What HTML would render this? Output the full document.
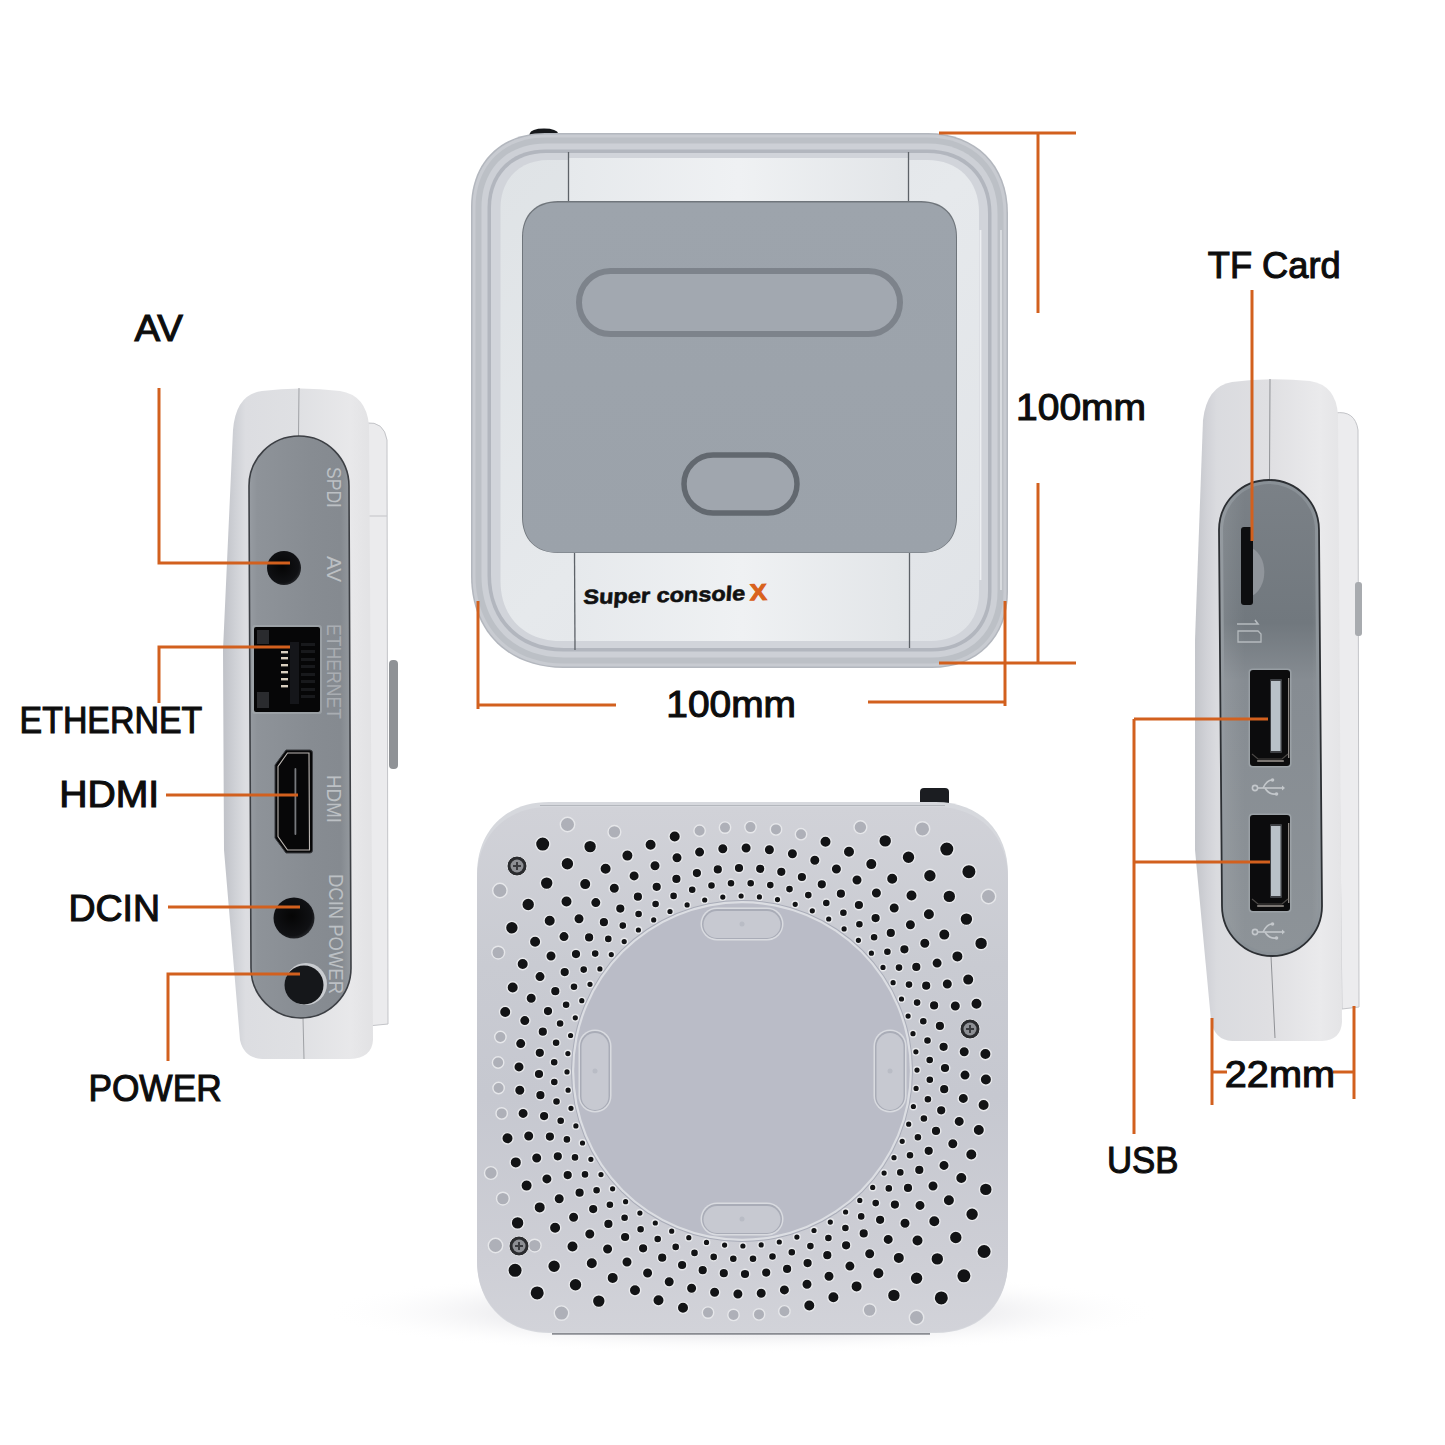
<!DOCTYPE html>
<html><head><meta charset="utf-8"><title>Super console X</title>
<style>html,body{margin:0;padding:0;background:#fff;width:1445px;height:1445px;overflow:hidden}
svg{display:block;font-family:"Liberation Sans",sans-serif}</style></head>
<body><svg width="1445" height="1445" viewBox="0 0 1445 1445">
<defs>
 <linearGradient id="topSurf" x1="0" y1="0" x2="1" y2="1">
  <stop offset="0" stop-color="#dfe3e6"/><stop offset="0.5" stop-color="#e6e9ec"/><stop offset="1" stop-color="#e0e3e7"/>
 </linearGradient>
 <linearGradient id="groove" x1="0" y1="0" x2="1" y2="0">
  <stop offset="0" stop-color="#adb2ba"/><stop offset="0.5" stop-color="#babec5"/><stop offset="1" stop-color="#c5c8cd"/>
 </linearGradient>
 <linearGradient id="grillg" x1="0" y1="0" x2="0" y2="1">
  <stop offset="0" stop-color="#d1d2d8"/><stop offset="0.3" stop-color="#c9cbd2"/><stop offset="0.55" stop-color="#c6c8d0"/><stop offset="0.85" stop-color="#cdced5"/><stop offset="1" stop-color="#d2d3d9"/>
 </linearGradient>
 <linearGradient id="floor" x1="0" y1="0" x2="0" y2="1">
  <stop offset="0" stop-color="#ffffff"/><stop offset="0.4" stop-color="#f5f5f7"/><stop offset="1" stop-color="#fafafb"/>
 </linearGradient>
 <radialGradient id="floorr" cx="0.5" cy="0.5" r="0.5">
  <stop offset="0" stop-color="#e9e9ec"/><stop offset="0.6" stop-color="#f1f1f3"/><stop offset="1" stop-color="#ffffff" stop-opacity="0"/>
 </radialGradient>
 <linearGradient id="strip" x1="0" y1="0" x2="1" y2="0">
  <stop offset="0" stop-color="#e6e9ec"/><stop offset="0.5" stop-color="#eff1f3"/><stop offset="1" stop-color="#e2e5e8"/>
 </linearGradient>
 <linearGradient id="panelTop" x1="0" y1="0" x2="0" y2="1">
  <stop offset="0" stop-color="#9da4ac"/><stop offset="1" stop-color="#9ba2aa"/>
 </linearGradient>
 <linearGradient id="sideBodyL" x1="0" y1="0" x2="1" y2="0">
  <stop offset="0" stop-color="#bfc1c7"/><stop offset="0.08" stop-color="#cfd1d6"/><stop offset="0.15" stop-color="#dcdde1"/><stop offset="0.5" stop-color="#dfe0e3"/><stop offset="0.85" stop-color="#e8e8ea"/><stop offset="1" stop-color="#e2e2e4"/>
 </linearGradient>
 <linearGradient id="sideBodyR" x1="0" y1="0" x2="1" y2="0">
  <stop offset="0" stop-color="#c3c5ca"/><stop offset="0.08" stop-color="#d1d2d7"/><stop offset="0.15" stop-color="#dadbdf"/><stop offset="0.5" stop-color="#dfdfe2"/><stop offset="0.85" stop-color="#eaeaec"/><stop offset="1" stop-color="#e4e4e6"/>
 </linearGradient>
 <linearGradient id="panelL" x1="0" y1="0" x2="1" y2="0">
  <stop offset="0" stop-color="#979ca2"/><stop offset="0.08" stop-color="#8e9399"/><stop offset="0.6" stop-color="#878c92"/><stop offset="0.9" stop-color="#858a90"/><stop offset="1" stop-color="#959a9f"/>
 </linearGradient>
 <linearGradient id="panelR" gradientUnits="userSpaceOnUse" x1="0" y1="480" x2="0" y2="956">
  <stop offset="0" stop-color="#7b8187"/><stop offset="0.3" stop-color="#71787e"/><stop offset="0.42" stop-color="#868c92"/><stop offset="1" stop-color="#8d9398"/>
 </linearGradient>
 <linearGradient id="panelRh" x1="0" y1="0" x2="1" y2="0">
  <stop offset="0" stop-color="#ffffff" stop-opacity="0.1"/><stop offset="0.25" stop-color="#ffffff" stop-opacity="0"/><stop offset="0.9" stop-color="#ffffff" stop-opacity="0"/><stop offset="1" stop-color="#ffffff" stop-opacity="0.08"/>
 </linearGradient>
 <linearGradient id="slotg" x1="0" y1="0" x2="1" y2="1">
  <stop offset="0" stop-color="#9fa2ae"/><stop offset="0.5" stop-color="#b0b3be"/><stop offset="1" stop-color="#bec1ca"/>
 </linearGradient>
 <radialGradient id="jack" cx="0.45" cy="0.45" r="0.6">
  <stop offset="0" stop-color="#050505"/><stop offset="0.8" stop-color="#101114"/><stop offset="1" stop-color="#2a2c30"/>
 </radialGradient>
</defs>
<path d="M529.5 138 L529.5 134 Q531 128.5 544 128.5 Q557 128.5 558.5 134 L558.5 138 Z" fill="#16181b"/><path d="M545.0 133.0 L928.0 133.0 C976.0 133.0 1008.0 165.0 1008.0 213.0 L1008.0 592.0 C1008.0 637.6 977.6 668.0 932.0 668.0 L563.0 668.0 C507.8 668.0 471.0 631.2 471.0 576.0 L471.0 207.0 C471.0 162.6 500.6 133.0 545.0 133.0 Z" fill="#b3b7be"/><path d="M545.0 134.5 L928.0 134.5 C975.1 134.5 1006.5 165.9 1006.5 213.0 L1006.5 592.0 C1006.5 636.7 976.7 666.5 932.0 666.5 L563.0 666.5 C508.7 666.5 472.5 630.3 472.5 576.0 L472.5 207.0 C472.5 163.5 501.5 134.5 545.0 134.5 Z" fill="#c8cbd1"/><path d="M545.5 137.5 L927.5 137.5 C973.1 137.5 1003.5 167.9 1003.5 213.5 L1003.5 591.5 C1003.5 634.7 974.7 663.5 931.5 663.5 L563.5 663.5 C510.7 663.5 475.5 628.3 475.5 575.5 L475.5 207.5 C475.5 165.5 503.5 137.5 545.5 137.5 Z" fill="#bcc0c6"/><path d="M545.5 143.5 L927.5 143.5 C969.5 143.5 997.5 171.5 997.5 213.5 L997.5 591.5 C997.5 631.1 971.1 657.5 931.5 657.5 L563.5 657.5 C514.3 657.5 481.5 624.7 481.5 575.5 L481.5 207.5 C481.5 169.1 507.1 143.5 545.5 143.5 Z" fill="#cdd0d6"/><path d="M545.5 149.5 L927.5 149.5 C965.9 149.5 991.5 175.1 991.5 213.5 L991.5 591.5 C991.5 627.5 967.5 651.5 931.5 651.5 L563.5 651.5 C517.9 651.5 487.5 621.1 487.5 575.5 L487.5 207.5 C487.5 172.7 510.7 149.5 545.5 149.5 Z" fill="#b2b6be"/><path d="M546.0 153.0 L927.0 153.0 C963.6 153.0 988.0 177.4 988.0 214.0 L988.0 591.0 C988.0 625.2 965.2 648.0 931.0 648.0 L564.0 648.0 C520.2 648.0 491.0 618.8 491.0 575.0 L491.0 208.0 C491.0 175.0 513.0 153.0 546.0 153.0 Z" fill="#d1d4da"/><path d="M548.5 160.0 L927.0 160.0 C958.2 160.0 979.0 180.8 979.0 212.0 L979.0 593.0 C979.0 621.8 959.8 641.0 931.0 641.0 L560.5 641.0 C524.5 641.0 500.5 617.0 500.5 581.0 L500.5 208.0 C500.5 179.2 519.7 160.0 548.5 160.0 Z" fill="url(#topSurf)"/><path d="M980.5 230 L980.5 580" stroke="#f4f6f8" stroke-width="1.8" opacity="0.8"/><path d="M1001 230 L1001 590" stroke="#eef0f3" stroke-width="1.6" opacity="0.7"/><path d="M568 158 L909 158 L909 201 L568 201 Z" fill="url(#strip)"/><path d="M574 552 L909 552 L909 641 L574 641 Z" fill="url(#strip)"/><path d="M568.5 152 L568.5 201" stroke="#5d6268" stroke-width="1.3"/><path d="M908.5 152 L908.5 201" stroke="#5d6268" stroke-width="1.3"/><path d="M574.5 552 L575 650" stroke="#5d6268" stroke-width="1.3"/><path d="M909.5 552 L909.5 648" stroke="#5d6268" stroke-width="1.3"/><path d="M558.0 201.0 L921.0 201.0 C943.3 201.0 957.0 214.7 957.0 237.0 L957.0 517.0 C957.0 539.3 943.3 553.0 921.0 553.0 L558.0 553.0 C535.7 553.0 522.0 539.3 522.0 517.0 L522.0 237.0 C522.0 214.7 535.7 201.0 558.0 201.0 Z" fill="#6f757b"/><path d="M558.0 202.5 L921.0 202.5 C942.7 202.5 956.0 215.8 956.0 237.5 L956.0 517.5 C956.0 539.2 942.7 552.5 921.0 552.5 L558.0 552.5 C536.3 552.5 523.0 539.2 523.0 517.5 L523.0 237.5 C523.0 215.8 536.3 202.5 558.0 202.5 Z" fill="url(#panelTop)"/><rect x="579" y="271" width="321" height="63" rx="31.5" fill="#a2a8b0" stroke="#7d838b" stroke-width="6"/><rect x="684" y="455" width="113" height="58" rx="29" fill="#a0a6ae" stroke="#62686f" stroke-width="5.5"/><g transform="rotate(-1.3 583 604)"><text x="583" y="604" transform="translate(583 604) skewX(-5) translate(-583 -604)" font-family="Liberation Sans" font-weight="bold" font-size="20.5" fill="#111" stroke="#111" stroke-width="0.6" textLength="162" lengthAdjust="spacingAndGlyphs">Super console</text><text x="750" y="604" font-family="Liberation Sans" font-weight="bold" font-size="23" fill="#d9621c" stroke="#d9621c" stroke-width="1" textLength="17" lengthAdjust="spacingAndGlyphs">X</text></g><path d="M366 423 Q384 421 387 440 L388 1024 L368 1026 Z" fill="#ebebed" stroke="#c3c4c8" stroke-width="1"/><path d="M368 516 L387 516" stroke="#c9cacd" stroke-width="1.2"/><rect x="389" y="660" width="9" height="109" rx="4" fill="#8f9296"/><path d="M262 391 Q300 386 340 391 Q366 395 369 425 L373 1040 Q372 1058 350 1059 L262 1059 Q244 1058 240 1040 L224 850 L223 650 L233 430 Q236 394 262 391 Z" fill="url(#sideBodyL)"/><path d="M299 388 L298.5 436" stroke="#9fa1a5" stroke-width="1"/><path d="M303 1018 L304 1059" stroke="#9fa1a5" stroke-width="1"/><path d="M249 486 A50 50 0 0 1 349 486 L351 968 A50 50 0 0 1 251 968 Z" fill="url(#panelL)" stroke="#3c3f44" stroke-width="1.6"/><circle cx="284" cy="568" r="17" fill="url(#jack)"/><rect x="252" y="625" width="70" height="89" rx="3" fill="#a3a8ad" opacity="0.7"/><rect x="254" y="627" width="66" height="85" rx="2" fill="#060607"/><rect x="257" y="630" width="12" height="14" fill="#2a2b2e"/><rect x="257" y="692" width="12" height="16" fill="#2a2b2e"/><rect x="290" y="642" width="9" height="62" fill="#15161a"/><rect x="281" y="651" width="7" height="2.4" fill="#d9cfbf"/><rect x="281" y="657" width="7" height="2.4" fill="#d9cfbf"/><rect x="281" y="664" width="7" height="2.4" fill="#d9cfbf"/><rect x="281" y="671" width="7" height="2.4" fill="#d9cfbf"/><rect x="281" y="678" width="7" height="2.4" fill="#d9cfbf"/><rect x="281" y="685" width="7" height="2.4" fill="#d9cfbf"/><rect x="301" y="643" width="14" height="3" fill="#18191c"/><rect x="301" y="650" width="14" height="3" fill="#18191c"/><rect x="301" y="658" width="14" height="3" fill="#18191c"/><rect x="301" y="665" width="14" height="3" fill="#18191c"/><rect x="301" y="673" width="14" height="3" fill="#18191c"/><rect x="301" y="680" width="14" height="3" fill="#18191c"/><rect x="301" y="688" width="14" height="3" fill="#18191c"/><rect x="301" y="695" width="14" height="3" fill="#18191c"/><path d="M286 750 L310 750 Q312.5 750 312.5 753 L312.5 850 Q312.5 853 310 853 L286 853 L275 838 L275 765 Z" fill="#070708" stroke="#3a3c40" stroke-width="1"/><path d="M287.5 753 L309 753 L309.5 850 L287.5 850 L278 836.5 L278 766.5 Z" fill="none" stroke="#bdb8b4" stroke-width="1.1"/><rect x="294.5" y="768" width="1.8" height="67" rx="0.9" fill="#77797d"/><circle cx="294" cy="918" r="20.5" fill="url(#jack)"/><circle cx="306" cy="984" r="21" fill="#c9ccd0"/><circle cx="304" cy="985" r="19.5" fill="#15171a"/><text transform="translate(327 467) rotate(90)" font-family="Liberation Sans" font-size="20" fill="#bcc0c4" textLength="41" lengthAdjust="spacingAndGlyphs">SPDI</text><text transform="translate(327 556) rotate(90)" font-family="Liberation Sans" font-size="20" fill="#bcc0c4" textLength="26" lengthAdjust="spacingAndGlyphs">AV</text><text transform="translate(327 624) rotate(90)" font-family="Liberation Sans" font-size="20" fill="#a9adb2" textLength="95" lengthAdjust="spacingAndGlyphs">ETHERNET</text><text transform="translate(327 775) rotate(90)" font-family="Liberation Sans" font-size="20" fill="#bcc0c4" textLength="48" lengthAdjust="spacingAndGlyphs">HDMI</text><text transform="translate(329 874) rotate(90)" font-family="Liberation Sans" font-size="20" fill="#bcc0c4" textLength="120" lengthAdjust="spacingAndGlyphs">DCIN  POWER</text><path d="M1335 413 Q1355 410 1358 430 L1359 1007 L1342 1009 Z" fill="#ececee" stroke="#c3c4c8" stroke-width="1"/><rect x="1355" y="582" width="7" height="54" rx="3" fill="#a8abaf"/><path d="M1232 382 Q1270 377 1310 381 Q1336 385 1338 415 L1342 1022 Q1341 1040 1322 1041 L1232 1041 Q1214 1040 1211 1020 L1195 850 L1195 640 L1203 420 Q1207 386 1232 382 Z" fill="url(#sideBodyR)"/><path d="M1270 379 L1269.5 480" stroke="#8f9195" stroke-width="1"/><path d="M1271 956 L1275 1038" stroke="#8f9195" stroke-width="1"/><path d="M1219 530 A50 50 0 0 1 1319 530 L1322 906 A50 50 0 0 1 1222 906 Z" fill="#899096"/><path d="M1223 530 A46 46 0 0 1 1315 530 L1318 906 A46 46 0 0 1 1226 906 Z" fill="url(#panelR)"/><path d="M1219 530 A50 50 0 0 1 1319 530 L1322 906 A50 50 0 0 1 1222 906 Z" fill="url(#panelRh)" stroke="#2c2f33" stroke-width="1.8"/><path d="M1252 548 A20 26 0 0 1 1252 596 Z" fill="#90959b"/><rect x="1241" y="527" width="12" height="78" rx="3" fill="#0d0e10"/><path d="M1238 631 L1258 631 L1261 634 L1261 642 L1238 642 Z" fill="none" stroke="#b5babe" stroke-width="1.3"/><path d="M1237 624 L1258 624 L1255 620" fill="none" stroke="#b5babe" stroke-width="1.6"/><rect x="1248.5" y="668.5" width="43" height="99" rx="4" fill="#a7adb2" opacity="0.6"/><rect x="1250" y="670" width="40" height="96" rx="3" fill="#0c0c0d"/><rect x="1288" y="678" width="1.3" height="80" fill="#8f8a86"/><rect x="1270" y="679" width="12" height="74" rx="1" fill="#3e4044"/><rect x="1271" y="681" width="9.5" height="70" fill="#b9c1c8"/><path d="M1258 761 L1283 761" stroke="#7b7672" stroke-width="2.2" stroke-linecap="round"/><path d="M1252 754 L1258 759 L1282 759 L1288 754" fill="none" stroke="#4a4745" stroke-width="1.2"/><rect x="1248.5" y="813.5" width="43" height="99" rx="4" fill="#a7adb2" opacity="0.6"/><rect x="1250" y="815" width="40" height="96" rx="3" fill="#0c0c0d"/><rect x="1288" y="823" width="1.3" height="80" fill="#8f8a86"/><rect x="1270" y="824" width="12" height="74" rx="1" fill="#3e4044"/><rect x="1271" y="826" width="9.5" height="70" fill="#b9c1c8"/><path d="M1258 906 L1283 906" stroke="#7b7672" stroke-width="2.2" stroke-linecap="round"/><path d="M1252 899 L1258 904 L1282 904 L1288 899" fill="none" stroke="#4a4745" stroke-width="1.2"/><g stroke="#c3c7cb" stroke-width="1.6" fill="none"><circle cx="1255.0" cy="788.0" r="2.6"/><path d="M1258.0 788.0 L1282.0 788.0"/><path d="M1263.0 788.0 Q1267.0 780.0 1272.0 780.0"/><path d="M1265.0 788.0 Q1269.0 795.0 1276.0 794.0"/></g><g fill="#c3c7cb"><circle cx="1272.5" cy="780.0" r="1.8"/><circle cx="1276.5" cy="794.0" r="1.8"/><path d="M1282.0 785.5 L1285.0 788.0 L1282.0 790.5 Z"/></g><g stroke="#c3c7cb" stroke-width="1.6" fill="none"><circle cx="1255.0" cy="932.0" r="2.6"/><path d="M1258.0 932.0 L1282.0 932.0"/><path d="M1263.0 932.0 Q1267.0 924.0 1272.0 924.0"/><path d="M1265.0 932.0 Q1269.0 939.0 1276.0 938.0"/></g><g fill="#c3c7cb"><circle cx="1272.5" cy="924.0" r="1.8"/><circle cx="1276.5" cy="938.0" r="1.8"/><path d="M1282.0 929.5 L1285.0 932.0 L1282.0 934.5 Z"/></g><rect x="920" y="788" width="29" height="22" rx="4" fill="#1b1d21"/><ellipse cx="742" cy="1312" rx="420" ry="42" fill="url(#floorr)"/><path d="M552 1333 L930 1333" stroke="#454952" stroke-width="3.5" opacity="0.6"/><path d="M549.0 802.0 L936.0 802.0 C979.2 802.0 1008.0 830.8 1008.0 874.0 L1008.0 1261.0 C1008.0 1304.2 979.2 1333.0 936.0 1333.0 L549.0 1333.0 C505.8 1333.0 477.0 1304.2 477.0 1261.0 L477.0 874.0 C477.0 830.8 505.8 802.0 549.0 802.0 Z" fill="#d6d8dd"/><path d="M540 805.5 L945 805.5" stroke="#9ea2a9" stroke-width="1" opacity="0.6"/><path d="M549.0 807.0 L936.0 807.0 C979.2 807.0 1008.0 835.8 1008.0 879.0 L1008.0 1260.0 C1008.0 1303.2 979.2 1332.0 936.0 1332.0 L549.0 1332.0 C505.8 1332.0 477.0 1303.2 477.0 1260.0 L477.0 879.0 C477.0 835.8 505.8 807.0 549.0 807.0 Z" fill="url(#grillg)"/><circle cx="917.0" cy="1070.1" r="3.3" fill="#121315" stroke="#e8e9ec" stroke-width="1.4"/><circle cx="916.1" cy="1088.4" r="3.3" fill="#121315" stroke="#e8e9ec" stroke-width="1.4"/><circle cx="913.4" cy="1106.5" r="3.3" fill="#121315" stroke="#e8e9ec" stroke-width="1.4"/><circle cx="908.7" cy="1124.2" r="3.3" fill="#121315" stroke="#e8e9ec" stroke-width="1.4"/><circle cx="902.2" cy="1141.3" r="3.3" fill="#121315" stroke="#e8e9ec" stroke-width="1.4"/><circle cx="894.0" cy="1157.7" r="3.3" fill="#121315" stroke="#e8e9ec" stroke-width="1.4"/><circle cx="884.1" cy="1173.1" r="3.3" fill="#121315" stroke="#e8e9ec" stroke-width="1.4"/><circle cx="872.7" cy="1187.4" r="3.3" fill="#121315" stroke="#e8e9ec" stroke-width="1.4"/><circle cx="859.8" cy="1200.4" r="3.3" fill="#121315" stroke="#e8e9ec" stroke-width="1.4"/><circle cx="845.6" cy="1212.0" r="3.3" fill="#121315" stroke="#e8e9ec" stroke-width="1.4"/><circle cx="830.3" cy="1222.1" r="3.3" fill="#121315" stroke="#e8e9ec" stroke-width="1.4"/><circle cx="814.0" cy="1230.5" r="3.3" fill="#121315" stroke="#e8e9ec" stroke-width="1.4"/><circle cx="796.9" cy="1237.1" r="3.3" fill="#121315" stroke="#e8e9ec" stroke-width="1.4"/><circle cx="779.3" cy="1242.0" r="3.3" fill="#121315" stroke="#e8e9ec" stroke-width="1.4"/><circle cx="761.2" cy="1244.9" r="3.3" fill="#121315" stroke="#e8e9ec" stroke-width="1.4"/><circle cx="742.9" cy="1246.0" r="3.3" fill="#121315" stroke="#e8e9ec" stroke-width="1.4"/><circle cx="724.6" cy="1245.1" r="3.3" fill="#121315" stroke="#e8e9ec" stroke-width="1.4"/><circle cx="706.5" cy="1242.4" r="3.3" fill="#121315" stroke="#e8e9ec" stroke-width="1.4"/><circle cx="688.8" cy="1237.7" r="3.3" fill="#121315" stroke="#e8e9ec" stroke-width="1.4"/><circle cx="671.7" cy="1231.2" r="3.3" fill="#121315" stroke="#e8e9ec" stroke-width="1.4"/><circle cx="655.3" cy="1223.0" r="3.3" fill="#121315" stroke="#e8e9ec" stroke-width="1.4"/><circle cx="639.9" cy="1213.1" r="3.3" fill="#121315" stroke="#e8e9ec" stroke-width="1.4"/><circle cx="625.6" cy="1201.7" r="3.3" fill="#121315" stroke="#e8e9ec" stroke-width="1.4"/><circle cx="612.6" cy="1188.8" r="3.3" fill="#121315" stroke="#e8e9ec" stroke-width="1.4"/><circle cx="601.0" cy="1174.6" r="3.3" fill="#121315" stroke="#e8e9ec" stroke-width="1.4"/><circle cx="590.9" cy="1159.3" r="3.3" fill="#121315" stroke="#e8e9ec" stroke-width="1.4"/><circle cx="582.5" cy="1143.0" r="3.3" fill="#121315" stroke="#e8e9ec" stroke-width="1.4"/><circle cx="575.9" cy="1125.9" r="3.3" fill="#121315" stroke="#e8e9ec" stroke-width="1.4"/><circle cx="571.0" cy="1108.3" r="3.3" fill="#121315" stroke="#e8e9ec" stroke-width="1.4"/><circle cx="568.1" cy="1090.2" r="3.3" fill="#121315" stroke="#e8e9ec" stroke-width="1.4"/><circle cx="567.0" cy="1071.9" r="3.3" fill="#121315" stroke="#e8e9ec" stroke-width="1.4"/><circle cx="567.9" cy="1053.6" r="3.3" fill="#121315" stroke="#e8e9ec" stroke-width="1.4"/><circle cx="570.6" cy="1035.5" r="3.3" fill="#121315" stroke="#e8e9ec" stroke-width="1.4"/><circle cx="575.3" cy="1017.8" r="3.3" fill="#121315" stroke="#e8e9ec" stroke-width="1.4"/><circle cx="581.8" cy="1000.7" r="3.3" fill="#121315" stroke="#e8e9ec" stroke-width="1.4"/><circle cx="590.0" cy="984.3" r="3.3" fill="#121315" stroke="#e8e9ec" stroke-width="1.4"/><circle cx="599.9" cy="968.9" r="3.3" fill="#121315" stroke="#e8e9ec" stroke-width="1.4"/><circle cx="611.3" cy="954.6" r="3.3" fill="#121315" stroke="#e8e9ec" stroke-width="1.4"/><circle cx="624.2" cy="941.6" r="3.3" fill="#121315" stroke="#e8e9ec" stroke-width="1.4"/><circle cx="638.4" cy="930.0" r="3.3" fill="#121315" stroke="#e8e9ec" stroke-width="1.4"/><circle cx="653.7" cy="919.9" r="3.3" fill="#121315" stroke="#e8e9ec" stroke-width="1.4"/><circle cx="670.0" cy="911.5" r="3.3" fill="#121315" stroke="#e8e9ec" stroke-width="1.4"/><circle cx="687.1" cy="904.9" r="3.3" fill="#121315" stroke="#e8e9ec" stroke-width="1.4"/><circle cx="704.7" cy="900.0" r="3.3" fill="#121315" stroke="#e8e9ec" stroke-width="1.4"/><circle cx="722.8" cy="897.1" r="3.3" fill="#121315" stroke="#e8e9ec" stroke-width="1.4"/><circle cx="741.1" cy="896.0" r="3.3" fill="#121315" stroke="#e8e9ec" stroke-width="1.4"/><circle cx="759.4" cy="896.9" r="3.3" fill="#121315" stroke="#e8e9ec" stroke-width="1.4"/><circle cx="777.5" cy="899.6" r="3.3" fill="#121315" stroke="#e8e9ec" stroke-width="1.4"/><circle cx="795.2" cy="904.3" r="3.3" fill="#121315" stroke="#e8e9ec" stroke-width="1.4"/><circle cx="812.3" cy="910.8" r="3.3" fill="#121315" stroke="#e8e9ec" stroke-width="1.4"/><circle cx="828.7" cy="919.0" r="3.3" fill="#121315" stroke="#e8e9ec" stroke-width="1.4"/><circle cx="844.1" cy="928.9" r="3.3" fill="#121315" stroke="#e8e9ec" stroke-width="1.4"/><circle cx="858.4" cy="940.3" r="3.3" fill="#121315" stroke="#e8e9ec" stroke-width="1.4"/><circle cx="871.4" cy="953.2" r="3.3" fill="#121315" stroke="#e8e9ec" stroke-width="1.4"/><circle cx="883.0" cy="967.4" r="3.3" fill="#121315" stroke="#e8e9ec" stroke-width="1.4"/><circle cx="893.1" cy="982.7" r="3.3" fill="#121315" stroke="#e8e9ec" stroke-width="1.4"/><circle cx="901.5" cy="999.0" r="3.3" fill="#121315" stroke="#e8e9ec" stroke-width="1.4"/><circle cx="908.1" cy="1016.1" r="3.3" fill="#121315" stroke="#e8e9ec" stroke-width="1.4"/><circle cx="913.0" cy="1033.7" r="3.3" fill="#121315" stroke="#e8e9ec" stroke-width="1.4"/><circle cx="915.9" cy="1051.8" r="3.3" fill="#121315" stroke="#e8e9ec" stroke-width="1.4"/><circle cx="929.8" cy="1079.7" r="4.0" fill="#121315" stroke="#e8e9ec" stroke-width="1.4"/><circle cx="927.9" cy="1099.3" r="4.0" fill="#121315" stroke="#e8e9ec" stroke-width="1.4"/><circle cx="923.9" cy="1118.5" r="4.0" fill="#121315" stroke="#e8e9ec" stroke-width="1.4"/><circle cx="917.9" cy="1137.3" r="4.0" fill="#121315" stroke="#e8e9ec" stroke-width="1.4"/><circle cx="910.0" cy="1155.3" r="4.0" fill="#121315" stroke="#e8e9ec" stroke-width="1.4"/><circle cx="900.3" cy="1172.4" r="4.0" fill="#121315" stroke="#e8e9ec" stroke-width="1.4"/><circle cx="888.8" cy="1188.4" r="4.0" fill="#121315" stroke="#e8e9ec" stroke-width="1.4"/><circle cx="875.7" cy="1203.1" r="4.0" fill="#121315" stroke="#e8e9ec" stroke-width="1.4"/><circle cx="861.2" cy="1216.4" r="4.0" fill="#121315" stroke="#e8e9ec" stroke-width="1.4"/><circle cx="845.4" cy="1228.0" r="4.0" fill="#121315" stroke="#e8e9ec" stroke-width="1.4"/><circle cx="828.4" cy="1238.0" r="4.0" fill="#121315" stroke="#e8e9ec" stroke-width="1.4"/><circle cx="810.4" cy="1246.1" r="4.0" fill="#121315" stroke="#e8e9ec" stroke-width="1.4"/><circle cx="791.8" cy="1252.3" r="4.0" fill="#121315" stroke="#e8e9ec" stroke-width="1.4"/><circle cx="772.5" cy="1256.5" r="4.0" fill="#121315" stroke="#e8e9ec" stroke-width="1.4"/><circle cx="753.0" cy="1258.7" r="4.0" fill="#121315" stroke="#e8e9ec" stroke-width="1.4"/><circle cx="733.3" cy="1258.8" r="4.0" fill="#121315" stroke="#e8e9ec" stroke-width="1.4"/><circle cx="713.7" cy="1256.9" r="4.0" fill="#121315" stroke="#e8e9ec" stroke-width="1.4"/><circle cx="694.5" cy="1252.9" r="4.0" fill="#121315" stroke="#e8e9ec" stroke-width="1.4"/><circle cx="675.7" cy="1246.9" r="4.0" fill="#121315" stroke="#e8e9ec" stroke-width="1.4"/><circle cx="657.7" cy="1239.0" r="4.0" fill="#121315" stroke="#e8e9ec" stroke-width="1.4"/><circle cx="640.6" cy="1229.3" r="4.0" fill="#121315" stroke="#e8e9ec" stroke-width="1.4"/><circle cx="624.6" cy="1217.8" r="4.0" fill="#121315" stroke="#e8e9ec" stroke-width="1.4"/><circle cx="609.9" cy="1204.7" r="4.0" fill="#121315" stroke="#e8e9ec" stroke-width="1.4"/><circle cx="596.6" cy="1190.2" r="4.0" fill="#121315" stroke="#e8e9ec" stroke-width="1.4"/><circle cx="585.0" cy="1174.4" r="4.0" fill="#121315" stroke="#e8e9ec" stroke-width="1.4"/><circle cx="575.0" cy="1157.4" r="4.0" fill="#121315" stroke="#e8e9ec" stroke-width="1.4"/><circle cx="566.9" cy="1139.4" r="4.0" fill="#121315" stroke="#e8e9ec" stroke-width="1.4"/><circle cx="560.7" cy="1120.8" r="4.0" fill="#121315" stroke="#e8e9ec" stroke-width="1.4"/><circle cx="556.5" cy="1101.5" r="4.0" fill="#121315" stroke="#e8e9ec" stroke-width="1.4"/><circle cx="554.3" cy="1082.0" r="4.0" fill="#121315" stroke="#e8e9ec" stroke-width="1.4"/><circle cx="554.2" cy="1062.3" r="4.0" fill="#121315" stroke="#e8e9ec" stroke-width="1.4"/><circle cx="556.1" cy="1042.7" r="4.0" fill="#121315" stroke="#e8e9ec" stroke-width="1.4"/><circle cx="560.1" cy="1023.5" r="4.0" fill="#121315" stroke="#e8e9ec" stroke-width="1.4"/><circle cx="566.1" cy="1004.7" r="4.0" fill="#121315" stroke="#e8e9ec" stroke-width="1.4"/><circle cx="574.0" cy="986.7" r="4.0" fill="#121315" stroke="#e8e9ec" stroke-width="1.4"/><circle cx="583.7" cy="969.6" r="4.0" fill="#121315" stroke="#e8e9ec" stroke-width="1.4"/><circle cx="595.2" cy="953.6" r="4.0" fill="#121315" stroke="#e8e9ec" stroke-width="1.4"/><circle cx="608.3" cy="938.9" r="4.0" fill="#121315" stroke="#e8e9ec" stroke-width="1.4"/><circle cx="622.8" cy="925.6" r="4.0" fill="#121315" stroke="#e8e9ec" stroke-width="1.4"/><circle cx="638.6" cy="914.0" r="4.0" fill="#121315" stroke="#e8e9ec" stroke-width="1.4"/><circle cx="655.6" cy="904.0" r="4.0" fill="#121315" stroke="#e8e9ec" stroke-width="1.4"/><circle cx="673.6" cy="895.9" r="4.0" fill="#121315" stroke="#e8e9ec" stroke-width="1.4"/><circle cx="692.2" cy="889.7" r="4.0" fill="#121315" stroke="#e8e9ec" stroke-width="1.4"/><circle cx="711.5" cy="885.5" r="4.0" fill="#121315" stroke="#e8e9ec" stroke-width="1.4"/><circle cx="731.0" cy="883.3" r="4.0" fill="#121315" stroke="#e8e9ec" stroke-width="1.4"/><circle cx="750.7" cy="883.2" r="4.0" fill="#121315" stroke="#e8e9ec" stroke-width="1.4"/><circle cx="770.3" cy="885.1" r="4.0" fill="#121315" stroke="#e8e9ec" stroke-width="1.4"/><circle cx="789.5" cy="889.1" r="4.0" fill="#121315" stroke="#e8e9ec" stroke-width="1.4"/><circle cx="808.3" cy="895.1" r="4.0" fill="#121315" stroke="#e8e9ec" stroke-width="1.4"/><circle cx="826.3" cy="903.0" r="4.0" fill="#121315" stroke="#e8e9ec" stroke-width="1.4"/><circle cx="843.4" cy="912.7" r="4.0" fill="#121315" stroke="#e8e9ec" stroke-width="1.4"/><circle cx="859.4" cy="924.2" r="4.0" fill="#121315" stroke="#e8e9ec" stroke-width="1.4"/><circle cx="874.1" cy="937.3" r="4.0" fill="#121315" stroke="#e8e9ec" stroke-width="1.4"/><circle cx="887.4" cy="951.8" r="4.0" fill="#121315" stroke="#e8e9ec" stroke-width="1.4"/><circle cx="899.0" cy="967.6" r="4.0" fill="#121315" stroke="#e8e9ec" stroke-width="1.4"/><circle cx="909.0" cy="984.6" r="4.0" fill="#121315" stroke="#e8e9ec" stroke-width="1.4"/><circle cx="917.1" cy="1002.6" r="4.0" fill="#121315" stroke="#e8e9ec" stroke-width="1.4"/><circle cx="923.3" cy="1021.2" r="4.0" fill="#121315" stroke="#e8e9ec" stroke-width="1.4"/><circle cx="927.5" cy="1040.5" r="4.0" fill="#121315" stroke="#e8e9ec" stroke-width="1.4"/><circle cx="929.7" cy="1060.0" r="4.0" fill="#121315" stroke="#e8e9ec" stroke-width="1.4"/><circle cx="945.0" cy="1068.0" r="4.8" fill="#121315" stroke="#e8e9ec" stroke-width="1.4"/><circle cx="944.2" cy="1089.2" r="4.8" fill="#121315" stroke="#e8e9ec" stroke-width="1.4"/><circle cx="941.2" cy="1110.3" r="4.8" fill="#121315" stroke="#e8e9ec" stroke-width="1.4"/><circle cx="936.0" cy="1130.9" r="4.8" fill="#121315" stroke="#e8e9ec" stroke-width="1.4"/><circle cx="928.7" cy="1150.8" r="4.8" fill="#121315" stroke="#e8e9ec" stroke-width="1.4"/><circle cx="919.3" cy="1169.9" r="4.8" fill="#121315" stroke="#e8e9ec" stroke-width="1.4"/><circle cx="908.0" cy="1187.9" r="4.8" fill="#121315" stroke="#e8e9ec" stroke-width="1.4"/><circle cx="894.9" cy="1204.6" r="4.8" fill="#121315" stroke="#e8e9ec" stroke-width="1.4"/><circle cx="880.1" cy="1219.8" r="4.8" fill="#121315" stroke="#e8e9ec" stroke-width="1.4"/><circle cx="863.7" cy="1233.4" r="4.8" fill="#121315" stroke="#e8e9ec" stroke-width="1.4"/><circle cx="846.1" cy="1245.3" r="4.8" fill="#121315" stroke="#e8e9ec" stroke-width="1.4"/><circle cx="827.3" cy="1255.2" r="4.8" fill="#121315" stroke="#e8e9ec" stroke-width="1.4"/><circle cx="807.6" cy="1263.1" r="4.8" fill="#121315" stroke="#e8e9ec" stroke-width="1.4"/><circle cx="787.1" cy="1268.9" r="4.8" fill="#121315" stroke="#e8e9ec" stroke-width="1.4"/><circle cx="766.2" cy="1272.6" r="4.8" fill="#121315" stroke="#e8e9ec" stroke-width="1.4"/><circle cx="745.0" cy="1274.0" r="4.8" fill="#121315" stroke="#e8e9ec" stroke-width="1.4"/><circle cx="723.8" cy="1273.2" r="4.8" fill="#121315" stroke="#e8e9ec" stroke-width="1.4"/><circle cx="702.7" cy="1270.2" r="4.8" fill="#121315" stroke="#e8e9ec" stroke-width="1.4"/><circle cx="682.1" cy="1265.0" r="4.8" fill="#121315" stroke="#e8e9ec" stroke-width="1.4"/><circle cx="662.2" cy="1257.7" r="4.8" fill="#121315" stroke="#e8e9ec" stroke-width="1.4"/><circle cx="643.1" cy="1248.3" r="4.8" fill="#121315" stroke="#e8e9ec" stroke-width="1.4"/><circle cx="625.1" cy="1237.0" r="4.8" fill="#121315" stroke="#e8e9ec" stroke-width="1.4"/><circle cx="608.4" cy="1223.9" r="4.8" fill="#121315" stroke="#e8e9ec" stroke-width="1.4"/><circle cx="593.2" cy="1209.1" r="4.8" fill="#121315" stroke="#e8e9ec" stroke-width="1.4"/><circle cx="579.6" cy="1192.7" r="4.8" fill="#121315" stroke="#e8e9ec" stroke-width="1.4"/><circle cx="567.7" cy="1175.1" r="4.8" fill="#121315" stroke="#e8e9ec" stroke-width="1.4"/><circle cx="557.8" cy="1156.3" r="4.8" fill="#121315" stroke="#e8e9ec" stroke-width="1.4"/><circle cx="549.9" cy="1136.6" r="4.8" fill="#121315" stroke="#e8e9ec" stroke-width="1.4"/><circle cx="544.1" cy="1116.1" r="4.8" fill="#121315" stroke="#e8e9ec" stroke-width="1.4"/><circle cx="540.4" cy="1095.2" r="4.8" fill="#121315" stroke="#e8e9ec" stroke-width="1.4"/><circle cx="539.0" cy="1074.0" r="4.8" fill="#121315" stroke="#e8e9ec" stroke-width="1.4"/><circle cx="539.8" cy="1052.8" r="4.8" fill="#121315" stroke="#e8e9ec" stroke-width="1.4"/><circle cx="542.8" cy="1031.7" r="4.8" fill="#121315" stroke="#e8e9ec" stroke-width="1.4"/><circle cx="548.0" cy="1011.1" r="4.8" fill="#121315" stroke="#e8e9ec" stroke-width="1.4"/><circle cx="555.3" cy="991.2" r="4.8" fill="#121315" stroke="#e8e9ec" stroke-width="1.4"/><circle cx="564.7" cy="972.1" r="4.8" fill="#121315" stroke="#e8e9ec" stroke-width="1.4"/><circle cx="576.0" cy="954.1" r="4.8" fill="#121315" stroke="#e8e9ec" stroke-width="1.4"/><circle cx="589.1" cy="937.4" r="4.8" fill="#121315" stroke="#e8e9ec" stroke-width="1.4"/><circle cx="603.9" cy="922.2" r="4.8" fill="#121315" stroke="#e8e9ec" stroke-width="1.4"/><circle cx="620.3" cy="908.6" r="4.8" fill="#121315" stroke="#e8e9ec" stroke-width="1.4"/><circle cx="637.9" cy="896.7" r="4.8" fill="#121315" stroke="#e8e9ec" stroke-width="1.4"/><circle cx="656.7" cy="886.8" r="4.8" fill="#121315" stroke="#e8e9ec" stroke-width="1.4"/><circle cx="676.4" cy="878.9" r="4.8" fill="#121315" stroke="#e8e9ec" stroke-width="1.4"/><circle cx="696.9" cy="873.1" r="4.8" fill="#121315" stroke="#e8e9ec" stroke-width="1.4"/><circle cx="717.8" cy="869.4" r="4.8" fill="#121315" stroke="#e8e9ec" stroke-width="1.4"/><circle cx="739.0" cy="868.0" r="4.8" fill="#121315" stroke="#e8e9ec" stroke-width="1.4"/><circle cx="760.2" cy="868.8" r="4.8" fill="#121315" stroke="#e8e9ec" stroke-width="1.4"/><circle cx="781.3" cy="871.8" r="4.8" fill="#121315" stroke="#e8e9ec" stroke-width="1.4"/><circle cx="801.9" cy="877.0" r="4.8" fill="#121315" stroke="#e8e9ec" stroke-width="1.4"/><circle cx="821.8" cy="884.3" r="4.8" fill="#121315" stroke="#e8e9ec" stroke-width="1.4"/><circle cx="840.9" cy="893.7" r="4.8" fill="#121315" stroke="#e8e9ec" stroke-width="1.4"/><circle cx="858.9" cy="905.0" r="4.8" fill="#121315" stroke="#e8e9ec" stroke-width="1.4"/><circle cx="875.6" cy="918.1" r="4.8" fill="#121315" stroke="#e8e9ec" stroke-width="1.4"/><circle cx="890.8" cy="932.9" r="4.8" fill="#121315" stroke="#e8e9ec" stroke-width="1.4"/><circle cx="904.4" cy="949.3" r="4.8" fill="#121315" stroke="#e8e9ec" stroke-width="1.4"/><circle cx="916.3" cy="966.9" r="4.8" fill="#121315" stroke="#e8e9ec" stroke-width="1.4"/><circle cx="926.2" cy="985.7" r="4.8" fill="#121315" stroke="#e8e9ec" stroke-width="1.4"/><circle cx="934.1" cy="1005.4" r="4.8" fill="#121315" stroke="#e8e9ec" stroke-width="1.4"/><circle cx="939.9" cy="1025.9" r="4.8" fill="#121315" stroke="#e8e9ec" stroke-width="1.4"/><circle cx="943.6" cy="1046.8" r="4.8" fill="#121315" stroke="#e8e9ec" stroke-width="1.4"/><circle cx="965.0" cy="1075.1" r="5.2" fill="#121315" stroke="#e8e9ec" stroke-width="1.4"/><circle cx="963.3" cy="1098.4" r="5.2" fill="#121315" stroke="#e8e9ec" stroke-width="1.4"/><circle cx="959.2" cy="1121.4" r="5.2" fill="#121315" stroke="#e8e9ec" stroke-width="1.4"/><circle cx="952.8" cy="1143.8" r="5.2" fill="#121315" stroke="#e8e9ec" stroke-width="1.4"/><circle cx="944.0" cy="1165.4" r="5.2" fill="#121315" stroke="#e8e9ec" stroke-width="1.4"/><circle cx="933.0" cy="1186.0" r="5.2" fill="#121315" stroke="#e8e9ec" stroke-width="1.4"/><circle cx="920.0" cy="1205.4" r="5.2" fill="#121315" stroke="#e8e9ec" stroke-width="1.4"/><circle cx="905.0" cy="1223.2" r="5.2" fill="#121315" stroke="#e8e9ec" stroke-width="1.4"/><circle cx="888.2" cy="1239.4" r="5.2" fill="#121315" stroke="#e8e9ec" stroke-width="1.4"/><circle cx="869.7" cy="1253.8" r="5.2" fill="#121315" stroke="#e8e9ec" stroke-width="1.4"/><circle cx="849.9" cy="1266.1" r="5.2" fill="#121315" stroke="#e8e9ec" stroke-width="1.4"/><circle cx="829.0" cy="1276.3" r="5.2" fill="#121315" stroke="#e8e9ec" stroke-width="1.4"/><circle cx="807.0" cy="1284.3" r="5.2" fill="#121315" stroke="#e8e9ec" stroke-width="1.4"/><circle cx="784.4" cy="1289.9" r="5.2" fill="#121315" stroke="#e8e9ec" stroke-width="1.4"/><circle cx="761.2" cy="1293.2" r="5.2" fill="#121315" stroke="#e8e9ec" stroke-width="1.4"/><circle cx="737.9" cy="1294.0" r="5.2" fill="#121315" stroke="#e8e9ec" stroke-width="1.4"/><circle cx="714.6" cy="1292.3" r="5.2" fill="#121315" stroke="#e8e9ec" stroke-width="1.4"/><circle cx="691.6" cy="1288.2" r="5.2" fill="#121315" stroke="#e8e9ec" stroke-width="1.4"/><circle cx="669.2" cy="1281.8" r="5.2" fill="#121315" stroke="#e8e9ec" stroke-width="1.4"/><circle cx="647.6" cy="1273.0" r="5.2" fill="#121315" stroke="#e8e9ec" stroke-width="1.4"/><circle cx="627.0" cy="1262.0" r="5.2" fill="#121315" stroke="#e8e9ec" stroke-width="1.4"/><circle cx="607.6" cy="1249.0" r="5.2" fill="#121315" stroke="#e8e9ec" stroke-width="1.4"/><circle cx="589.8" cy="1234.0" r="5.2" fill="#121315" stroke="#e8e9ec" stroke-width="1.4"/><circle cx="573.6" cy="1217.2" r="5.2" fill="#121315" stroke="#e8e9ec" stroke-width="1.4"/><circle cx="559.2" cy="1198.7" r="5.2" fill="#121315" stroke="#e8e9ec" stroke-width="1.4"/><circle cx="546.9" cy="1178.9" r="5.2" fill="#121315" stroke="#e8e9ec" stroke-width="1.4"/><circle cx="536.7" cy="1158.0" r="5.2" fill="#121315" stroke="#e8e9ec" stroke-width="1.4"/><circle cx="528.7" cy="1136.0" r="5.2" fill="#121315" stroke="#e8e9ec" stroke-width="1.4"/><circle cx="523.1" cy="1113.4" r="5.2" fill="#121315" stroke="#e8e9ec" stroke-width="1.4"/><circle cx="519.8" cy="1090.2" r="5.2" fill="#121315" stroke="#e8e9ec" stroke-width="1.4"/><circle cx="519.0" cy="1066.9" r="5.2" fill="#121315" stroke="#e8e9ec" stroke-width="1.4"/><circle cx="520.7" cy="1043.6" r="5.2" fill="#121315" stroke="#e8e9ec" stroke-width="1.4"/><circle cx="524.8" cy="1020.6" r="5.2" fill="#121315" stroke="#e8e9ec" stroke-width="1.4"/><circle cx="531.2" cy="998.2" r="5.2" fill="#121315" stroke="#e8e9ec" stroke-width="1.4"/><circle cx="540.0" cy="976.6" r="5.2" fill="#121315" stroke="#e8e9ec" stroke-width="1.4"/><circle cx="551.0" cy="956.0" r="5.2" fill="#121315" stroke="#e8e9ec" stroke-width="1.4"/><circle cx="564.0" cy="936.6" r="5.2" fill="#121315" stroke="#e8e9ec" stroke-width="1.4"/><circle cx="579.0" cy="918.8" r="5.2" fill="#121315" stroke="#e8e9ec" stroke-width="1.4"/><circle cx="595.8" cy="902.6" r="5.2" fill="#121315" stroke="#e8e9ec" stroke-width="1.4"/><circle cx="614.3" cy="888.2" r="5.2" fill="#121315" stroke="#e8e9ec" stroke-width="1.4"/><circle cx="634.1" cy="875.9" r="5.2" fill="#121315" stroke="#e8e9ec" stroke-width="1.4"/><circle cx="655.0" cy="865.7" r="5.2" fill="#121315" stroke="#e8e9ec" stroke-width="1.4"/><circle cx="677.0" cy="857.7" r="5.2" fill="#121315" stroke="#e8e9ec" stroke-width="1.4"/><circle cx="699.6" cy="852.1" r="5.2" fill="#121315" stroke="#e8e9ec" stroke-width="1.4"/><circle cx="722.8" cy="848.8" r="5.2" fill="#121315" stroke="#e8e9ec" stroke-width="1.4"/><circle cx="746.1" cy="848.0" r="5.2" fill="#121315" stroke="#e8e9ec" stroke-width="1.4"/><circle cx="769.4" cy="849.7" r="5.2" fill="#121315" stroke="#e8e9ec" stroke-width="1.4"/><circle cx="792.4" cy="853.8" r="5.2" fill="#121315" stroke="#e8e9ec" stroke-width="1.4"/><circle cx="814.8" cy="860.2" r="5.2" fill="#121315" stroke="#e8e9ec" stroke-width="1.4"/><circle cx="836.4" cy="869.0" r="5.2" fill="#121315" stroke="#e8e9ec" stroke-width="1.4"/><circle cx="857.0" cy="880.0" r="5.2" fill="#121315" stroke="#e8e9ec" stroke-width="1.4"/><circle cx="876.4" cy="893.0" r="5.2" fill="#121315" stroke="#e8e9ec" stroke-width="1.4"/><circle cx="894.2" cy="908.0" r="5.2" fill="#121315" stroke="#e8e9ec" stroke-width="1.4"/><circle cx="910.4" cy="924.8" r="5.2" fill="#121315" stroke="#e8e9ec" stroke-width="1.4"/><circle cx="924.8" cy="943.3" r="5.2" fill="#121315" stroke="#e8e9ec" stroke-width="1.4"/><circle cx="937.1" cy="963.1" r="5.2" fill="#121315" stroke="#e8e9ec" stroke-width="1.4"/><circle cx="947.3" cy="984.0" r="5.2" fill="#121315" stroke="#e8e9ec" stroke-width="1.4"/><circle cx="955.3" cy="1006.0" r="5.2" fill="#121315" stroke="#e8e9ec" stroke-width="1.4"/><circle cx="964.2" cy="1051.8" r="5.2" fill="#121315" stroke="#e8e9ec" stroke-width="1.4"/><circle cx="985.9" cy="1079.5" r="5.7" fill="#121315" stroke="#e8e9ec" stroke-width="1.4"/><circle cx="983.6" cy="1105.0" r="5.7" fill="#121315" stroke="#e8e9ec" stroke-width="1.4"/><circle cx="978.8" cy="1130.0" r="5.7" fill="#121315" stroke="#e8e9ec" stroke-width="1.4"/><circle cx="971.3" cy="1154.5" r="5.7" fill="#121315" stroke="#e8e9ec" stroke-width="1.4"/><circle cx="961.3" cy="1178.0" r="5.7" fill="#121315" stroke="#e8e9ec" stroke-width="1.4"/><circle cx="948.9" cy="1200.3" r="5.7" fill="#121315" stroke="#e8e9ec" stroke-width="1.4"/><circle cx="934.3" cy="1221.2" r="5.7" fill="#121315" stroke="#e8e9ec" stroke-width="1.4"/><circle cx="917.5" cy="1240.5" r="5.7" fill="#121315" stroke="#e8e9ec" stroke-width="1.4"/><circle cx="898.8" cy="1257.9" r="5.7" fill="#121315" stroke="#e8e9ec" stroke-width="1.4"/><circle cx="878.4" cy="1273.3" r="5.7" fill="#121315" stroke="#e8e9ec" stroke-width="1.4"/><circle cx="856.6" cy="1286.4" r="5.7" fill="#121315" stroke="#e8e9ec" stroke-width="1.4"/><circle cx="833.4" cy="1297.2" r="5.7" fill="#121315" stroke="#e8e9ec" stroke-width="1.4"/><circle cx="809.3" cy="1305.5" r="5.7" fill="#121315" stroke="#e8e9ec" stroke-width="1.4"/><circle cx="784.4" cy="1311.3" r="5.7" fill="#aeb0b8" stroke="#e6e7ea" stroke-width="1.4"/><circle cx="759.0" cy="1314.4" r="5.7" fill="#aeb0b8" stroke="#e6e7ea" stroke-width="1.4"/><circle cx="733.5" cy="1314.9" r="5.7" fill="#aeb0b8" stroke="#e6e7ea" stroke-width="1.4"/><circle cx="708.0" cy="1312.6" r="5.7" fill="#aeb0b8" stroke="#e6e7ea" stroke-width="1.4"/><circle cx="683.0" cy="1307.8" r="5.7" fill="#121315" stroke="#e8e9ec" stroke-width="1.4"/><circle cx="658.5" cy="1300.3" r="5.7" fill="#121315" stroke="#e8e9ec" stroke-width="1.4"/><circle cx="635.0" cy="1290.3" r="5.7" fill="#121315" stroke="#e8e9ec" stroke-width="1.4"/><circle cx="612.7" cy="1277.9" r="5.7" fill="#121315" stroke="#e8e9ec" stroke-width="1.4"/><circle cx="591.8" cy="1263.3" r="5.7" fill="#121315" stroke="#e8e9ec" stroke-width="1.4"/><circle cx="572.5" cy="1246.5" r="5.7" fill="#121315" stroke="#e8e9ec" stroke-width="1.4"/><circle cx="555.1" cy="1227.8" r="5.7" fill="#121315" stroke="#e8e9ec" stroke-width="1.4"/><circle cx="539.7" cy="1207.4" r="5.7" fill="#121315" stroke="#e8e9ec" stroke-width="1.4"/><circle cx="526.6" cy="1185.6" r="5.7" fill="#121315" stroke="#e8e9ec" stroke-width="1.4"/><circle cx="515.8" cy="1162.4" r="5.7" fill="#121315" stroke="#e8e9ec" stroke-width="1.4"/><circle cx="507.5" cy="1138.3" r="5.7" fill="#121315" stroke="#e8e9ec" stroke-width="1.4"/><circle cx="501.7" cy="1113.4" r="5.7" fill="#aeb0b8" stroke="#e6e7ea" stroke-width="1.4"/><circle cx="498.6" cy="1088.0" r="5.7" fill="#aeb0b8" stroke="#e6e7ea" stroke-width="1.4"/><circle cx="498.1" cy="1062.5" r="5.7" fill="#aeb0b8" stroke="#e6e7ea" stroke-width="1.4"/><circle cx="500.4" cy="1037.0" r="5.7" fill="#aeb0b8" stroke="#e6e7ea" stroke-width="1.4"/><circle cx="505.2" cy="1012.0" r="5.7" fill="#121315" stroke="#e8e9ec" stroke-width="1.4"/><circle cx="512.7" cy="987.5" r="5.7" fill="#121315" stroke="#e8e9ec" stroke-width="1.4"/><circle cx="522.7" cy="964.0" r="5.7" fill="#121315" stroke="#e8e9ec" stroke-width="1.4"/><circle cx="535.1" cy="941.7" r="5.7" fill="#121315" stroke="#e8e9ec" stroke-width="1.4"/><circle cx="549.7" cy="920.8" r="5.7" fill="#121315" stroke="#e8e9ec" stroke-width="1.4"/><circle cx="566.5" cy="901.5" r="5.7" fill="#121315" stroke="#e8e9ec" stroke-width="1.4"/><circle cx="585.2" cy="884.1" r="5.7" fill="#121315" stroke="#e8e9ec" stroke-width="1.4"/><circle cx="605.6" cy="868.7" r="5.7" fill="#121315" stroke="#e8e9ec" stroke-width="1.4"/><circle cx="627.4" cy="855.6" r="5.7" fill="#121315" stroke="#e8e9ec" stroke-width="1.4"/><circle cx="650.6" cy="844.8" r="5.7" fill="#121315" stroke="#e8e9ec" stroke-width="1.4"/><circle cx="674.7" cy="836.5" r="5.7" fill="#121315" stroke="#e8e9ec" stroke-width="1.4"/><circle cx="699.6" cy="830.7" r="5.7" fill="#aeb0b8" stroke="#e6e7ea" stroke-width="1.4"/><circle cx="725.0" cy="827.6" r="5.7" fill="#aeb0b8" stroke="#e6e7ea" stroke-width="1.4"/><circle cx="750.5" cy="827.1" r="5.7" fill="#aeb0b8" stroke="#e6e7ea" stroke-width="1.4"/><circle cx="776.0" cy="829.4" r="5.7" fill="#aeb0b8" stroke="#e6e7ea" stroke-width="1.4"/><circle cx="801.0" cy="834.2" r="5.7" fill="#aeb0b8" stroke="#e6e7ea" stroke-width="1.4"/><circle cx="825.5" cy="841.7" r="5.7" fill="#121315" stroke="#e8e9ec" stroke-width="1.4"/><circle cx="849.0" cy="851.7" r="5.7" fill="#121315" stroke="#e8e9ec" stroke-width="1.4"/><circle cx="871.3" cy="864.1" r="5.7" fill="#121315" stroke="#e8e9ec" stroke-width="1.4"/><circle cx="892.2" cy="878.7" r="5.7" fill="#121315" stroke="#e8e9ec" stroke-width="1.4"/><circle cx="911.5" cy="895.5" r="5.7" fill="#121315" stroke="#e8e9ec" stroke-width="1.4"/><circle cx="928.9" cy="914.2" r="5.7" fill="#121315" stroke="#e8e9ec" stroke-width="1.4"/><circle cx="944.3" cy="934.6" r="5.7" fill="#121315" stroke="#e8e9ec" stroke-width="1.4"/><circle cx="957.4" cy="956.4" r="5.7" fill="#121315" stroke="#e8e9ec" stroke-width="1.4"/><circle cx="968.2" cy="979.6" r="5.7" fill="#121315" stroke="#e8e9ec" stroke-width="1.4"/><circle cx="976.5" cy="1003.7" r="5.7" fill="#121315" stroke="#e8e9ec" stroke-width="1.4"/><circle cx="985.4" cy="1054.0" r="5.7" fill="#121315" stroke="#e8e9ec" stroke-width="1.4"/><circle cx="985.8" cy="1189.4" r="6.4" fill="#121315" stroke="#e8e9ec" stroke-width="1.4"/><circle cx="972.1" cy="1214.2" r="6.4" fill="#121315" stroke="#e8e9ec" stroke-width="1.4"/><circle cx="955.8" cy="1237.5" r="6.4" fill="#121315" stroke="#e8e9ec" stroke-width="1.4"/><circle cx="937.3" cy="1258.9" r="6.4" fill="#121315" stroke="#e8e9ec" stroke-width="1.4"/><circle cx="916.6" cy="1278.3" r="6.4" fill="#121315" stroke="#e8e9ec" stroke-width="1.4"/><circle cx="893.9" cy="1295.4" r="6.4" fill="#121315" stroke="#e8e9ec" stroke-width="1.4"/><circle cx="869.6" cy="1310.1" r="6.4" fill="#aeb0b8" stroke="#e6e7ea" stroke-width="1.4"/><circle cx="598.8" cy="1301.1" r="6.4" fill="#121315" stroke="#e8e9ec" stroke-width="1.4"/><circle cx="575.5" cy="1284.8" r="6.4" fill="#121315" stroke="#e8e9ec" stroke-width="1.4"/><circle cx="554.1" cy="1266.3" r="6.4" fill="#121315" stroke="#e8e9ec" stroke-width="1.4"/><circle cx="534.7" cy="1245.6" r="6.4" fill="#aeb0b8" stroke="#e6e7ea" stroke-width="1.4"/><circle cx="517.6" cy="1222.9" r="6.4" fill="#121315" stroke="#e8e9ec" stroke-width="1.4"/><circle cx="502.9" cy="1198.6" r="6.4" fill="#aeb0b8" stroke="#e6e7ea" stroke-width="1.4"/><circle cx="490.9" cy="1173.0" r="6.4" fill="#aeb0b8" stroke="#e6e7ea" stroke-width="1.4"/><circle cx="498.2" cy="952.6" r="6.4" fill="#aeb0b8" stroke="#e6e7ea" stroke-width="1.4"/><circle cx="511.9" cy="927.8" r="6.4" fill="#121315" stroke="#e8e9ec" stroke-width="1.4"/><circle cx="528.2" cy="904.5" r="6.4" fill="#121315" stroke="#e8e9ec" stroke-width="1.4"/><circle cx="546.7" cy="883.1" r="6.4" fill="#121315" stroke="#e8e9ec" stroke-width="1.4"/><circle cx="567.4" cy="863.7" r="6.4" fill="#121315" stroke="#e8e9ec" stroke-width="1.4"/><circle cx="590.1" cy="846.6" r="6.4" fill="#121315" stroke="#e8e9ec" stroke-width="1.4"/><circle cx="614.4" cy="831.9" r="6.4" fill="#aeb0b8" stroke="#e6e7ea" stroke-width="1.4"/><circle cx="860.4" cy="827.2" r="6.4" fill="#aeb0b8" stroke="#e6e7ea" stroke-width="1.4"/><circle cx="885.2" cy="840.9" r="6.4" fill="#121315" stroke="#e8e9ec" stroke-width="1.4"/><circle cx="908.5" cy="857.2" r="6.4" fill="#121315" stroke="#e8e9ec" stroke-width="1.4"/><circle cx="929.9" cy="875.7" r="6.4" fill="#121315" stroke="#e8e9ec" stroke-width="1.4"/><circle cx="949.3" cy="896.4" r="6.4" fill="#121315" stroke="#e8e9ec" stroke-width="1.4"/><circle cx="966.4" cy="919.1" r="6.4" fill="#121315" stroke="#e8e9ec" stroke-width="1.4"/><circle cx="981.1" cy="943.4" r="6.4" fill="#121315" stroke="#e8e9ec" stroke-width="1.4"/><circle cx="984.1" cy="1251.5" r="7.2" fill="#121315" stroke="#e8e9ec" stroke-width="1.4"/><circle cx="963.9" cy="1275.8" r="7.2" fill="#121315" stroke="#e8e9ec" stroke-width="1.4"/><circle cx="941.3" cy="1297.9" r="7.2" fill="#121315" stroke="#e8e9ec" stroke-width="1.4"/><circle cx="916.5" cy="1317.5" r="7.2" fill="#aeb0b8" stroke="#e6e7ea" stroke-width="1.4"/><circle cx="561.5" cy="1313.1" r="7.2" fill="#aeb0b8" stroke="#e6e7ea" stroke-width="1.4"/><circle cx="537.2" cy="1292.9" r="7.2" fill="#121315" stroke="#e8e9ec" stroke-width="1.4"/><circle cx="515.1" cy="1270.3" r="7.2" fill="#121315" stroke="#e8e9ec" stroke-width="1.4"/><circle cx="495.5" cy="1245.5" r="7.2" fill="#aeb0b8" stroke="#e6e7ea" stroke-width="1.4"/><circle cx="499.9" cy="890.5" r="7.2" fill="#aeb0b8" stroke="#e6e7ea" stroke-width="1.4"/><circle cx="542.7" cy="844.1" r="7.2" fill="#121315" stroke="#e8e9ec" stroke-width="1.4"/><circle cx="567.5" cy="824.5" r="7.2" fill="#aeb0b8" stroke="#e6e7ea" stroke-width="1.4"/><circle cx="922.5" cy="828.9" r="7.2" fill="#aeb0b8" stroke="#e6e7ea" stroke-width="1.4"/><circle cx="946.8" cy="849.1" r="7.2" fill="#121315" stroke="#e8e9ec" stroke-width="1.4"/><circle cx="968.9" cy="871.7" r="7.2" fill="#121315" stroke="#e8e9ec" stroke-width="1.4"/><circle cx="988.5" cy="896.5" r="7.2" fill="#aeb0b8" stroke="#e6e7ea" stroke-width="1.4"/><circle cx="517" cy="866" r="10" fill="#2a2b2e" stroke="#dedfe3" stroke-width="1"/><circle cx="517" cy="866" r="6.5" fill="#8d8f94"/><path d="M513 866 h8 M517 862 v8" stroke="#3a3b3f" stroke-width="2"/><circle cx="970" cy="1029" r="10" fill="#2a2b2e" stroke="#dedfe3" stroke-width="1"/><circle cx="970" cy="1029" r="6.5" fill="#8d8f94"/><path d="M966 1029 h8 M970 1025 v8" stroke="#3a3b3f" stroke-width="2"/><circle cx="519" cy="1246" r="10" fill="#2a2b2e" stroke="#dedfe3" stroke-width="1"/><circle cx="519" cy="1246" r="6.5" fill="#8d8f94"/><path d="M515 1246 h8 M519 1242 v8" stroke="#3a3b3f" stroke-width="2"/><circle cx="742" cy="1071" r="171" fill="#a9acb8"/><circle cx="742" cy="1071" r="170" fill="#dcdee3"/><circle cx="742" cy="1071" r="167.8" fill="#babcc7"/><rect x="700.5" y="907.5" width="83" height="33" rx="16.5" fill="#d9dbe0"/><rect x="702.0" y="909.0" width="80" height="30" rx="15.0" fill="#a9acb7"/><rect x="703.5" y="911.0" width="77" height="27" rx="13.5" fill="#c7c9d1"/><circle cx="742.0" cy="924.0" r="2.5" fill="#b9bcc5"/><rect x="700.5" y="1202.5" width="83" height="33" rx="16.5" fill="#d9dbe0"/><rect x="702.0" y="1204.0" width="80" height="30" rx="15.0" fill="#a9acb7"/><rect x="703.5" y="1206.0" width="77" height="27" rx="13.5" fill="#c7c9d1"/><circle cx="742.0" cy="1219.0" r="2.5" fill="#b9bcc5"/><rect x="578.5" y="1029.5" width="33" height="83" rx="16.5" fill="#d9dbe0"/><rect x="580.0" y="1031.0" width="30" height="80" rx="15.0" fill="#a9acb7"/><rect x="581.5" y="1033.0" width="27" height="77" rx="13.5" fill="#c7c9d1"/><circle cx="595.0" cy="1071.0" r="2.5" fill="#b9bcc5"/><rect x="873.5" y="1029.5" width="33" height="83" rx="16.5" fill="#d9dbe0"/><rect x="875.0" y="1031.0" width="30" height="80" rx="15.0" fill="#a9acb7"/><rect x="876.5" y="1033.0" width="27" height="77" rx="13.5" fill="#c7c9d1"/><circle cx="890.0" cy="1071.0" r="2.5" fill="#b9bcc5"/><path d="M159 388 L159 563 L290 563" fill="none" stroke="#d2601e" stroke-width="3"/><path d="M290 647 L159 647 L159 703" fill="none" stroke="#d2601e" stroke-width="3"/><path d="M166 795 L298 795" fill="none" stroke="#d2601e" stroke-width="3"/><path d="M168 907 L300 907" fill="none" stroke="#d2601e" stroke-width="3"/><path d="M300 974 L168 974 L168 1061" fill="none" stroke="#d2601e" stroke-width="3"/><path d="M939 133 L1076 133" fill="none" stroke="#d2601e" stroke-width="3"/><path d="M1038 133 L1038 313" fill="none" stroke="#d2601e" stroke-width="3"/><path d="M1038 483 L1038 663" fill="none" stroke="#d2601e" stroke-width="3"/><path d="M939 663 L1076 663" fill="none" stroke="#d2601e" stroke-width="3"/><path d="M478 601 L478 709" fill="none" stroke="#d2601e" stroke-width="3"/><path d="M478 705 L616 705" fill="none" stroke="#d2601e" stroke-width="3"/><path d="M868 702 L1005 702" fill="none" stroke="#d2601e" stroke-width="3"/><path d="M1005 601 L1005 706" fill="none" stroke="#d2601e" stroke-width="3"/><path d="M1252 290 L1252 541" fill="none" stroke="#d2601e" stroke-width="3"/><path d="M1134 719 L1134 1134" fill="none" stroke="#d2601e" stroke-width="3"/><path d="M1134 719 L1268 719" fill="none" stroke="#d2601e" stroke-width="3"/><path d="M1134 862 L1270 862" fill="none" stroke="#d2601e" stroke-width="3"/><path d="M1212 1018 L1212 1105" fill="none" stroke="#d2601e" stroke-width="3"/><path d="M1354 1006 L1354 1099" fill="none" stroke="#d2601e" stroke-width="3"/><path d="M1212 1072 L1227 1072" fill="none" stroke="#d2601e" stroke-width="3"/><path d="M1333 1072 L1354 1072" fill="none" stroke="#d2601e" stroke-width="3"/><text x="134.4" y="341.2" font-family="Liberation Sans" font-size="37.5" fill="#0d0d0d" stroke="#0d0d0d" stroke-width="1.1" textLength="48.5" lengthAdjust="spacingAndGlyphs">AV</text><text x="19.6" y="733" font-family="Liberation Sans" font-size="37.5" fill="#0d0d0d" stroke="#0d0d0d" stroke-width="1.1" textLength="182.6" lengthAdjust="spacingAndGlyphs">ETHERNET</text><text x="59.2" y="806.8" font-family="Liberation Sans" font-size="37.5" fill="#0d0d0d" stroke="#0d0d0d" stroke-width="1.1" textLength="100" lengthAdjust="spacingAndGlyphs">HDMI</text><text x="68.4" y="921" font-family="Liberation Sans" font-size="37.5" fill="#0d0d0d" stroke="#0d0d0d" stroke-width="1.1" textLength="91.6" lengthAdjust="spacingAndGlyphs">DCIN</text><text x="88.4" y="1101.4" font-family="Liberation Sans" font-size="37.5" fill="#0d0d0d" stroke="#0d0d0d" stroke-width="1.1" textLength="133.3" lengthAdjust="spacingAndGlyphs">POWER</text><text x="1016.1" y="420.3" font-family="Liberation Sans" font-size="37.5" fill="#0d0d0d" stroke="#0d0d0d" stroke-width="1.1" textLength="129.9" lengthAdjust="spacingAndGlyphs">100mm</text><text x="666.3" y="716.9" font-family="Liberation Sans" font-size="37.5" fill="#0d0d0d" stroke="#0d0d0d" stroke-width="1.1" textLength="129.7" lengthAdjust="spacingAndGlyphs">100mm</text><text x="1207.8" y="278" font-family="Liberation Sans" font-size="37.5" fill="#0d0d0d" stroke="#0d0d0d" stroke-width="1.1" textLength="132.8" lengthAdjust="spacingAndGlyphs">TF Card</text><text x="1107" y="1173.1" font-family="Liberation Sans" font-size="37.5" fill="#0d0d0d" stroke="#0d0d0d" stroke-width="1.1" textLength="71.5" lengthAdjust="spacingAndGlyphs">USB</text><text x="1224.8" y="1087" font-family="Liberation Sans" font-size="37.5" fill="#0d0d0d" stroke="#0d0d0d" stroke-width="1.1" textLength="110.2" lengthAdjust="spacingAndGlyphs">22mm</text></svg></body></html>
